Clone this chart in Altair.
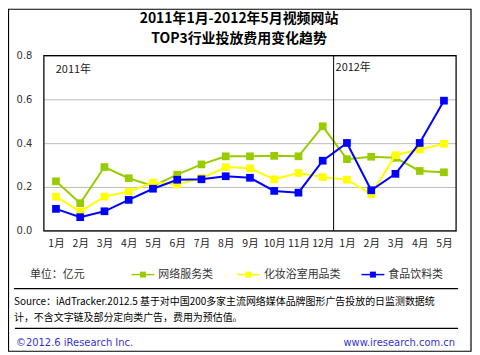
import altair as alt
import pandas as pd

months = ["1月", "2月", "3月", "4月", "5月", "6月", "7月", "8月", "9月", "10月", "11月", "12月",
          "1月", "2月", "3月", "4月", "5月"]
series_names = ["网络服务类", "化妆浴室用品类", "食品饮料类"]
series_colors = ["#99CC00", "#FFFF00", "#0000FF"]
net_service = [0.226, 0.126, 0.291, 0.240, 0.205, 0.256, 0.303, 0.340, 0.340, 0.342, 0.340, 0.477,
               0.327, 0.338, 0.333, 0.273, 0.267]
cosmetics = [0.156, 0.088, 0.156, 0.179, 0.220, 0.212, 0.240, 0.291, 0.285, 0.235, 0.264, 0.245,
             0.233, 0.167, 0.345, 0.371, 0.397]
food_drink = [0.100, 0.062, 0.089, 0.141, 0.192, 0.233, 0.235, 0.249, 0.242, 0.182, 0.174, 0.320,
              0.401, 0.185, 0.260, 0.401, 0.594]
y_ticks = [0.0, 0.2, 0.4, 0.6, 0.8]
year_split = 11.45

title_lines = ["2011年1月-2012年5月视频网站", "TOP3行业投放费用变化趋势"]
unit_text = "单位：亿元"
source_lines = ["Source：iAdTracker.2012.5 基于对中国200多家主流网络媒体品牌图形广告投放的日监测数据统",
                "计，不含文字链及部分定向类广告，费用为预估值。"]
footer_left = "©2012.6 iResearch Inc."
footer_right = "www.iresearch.com.cn"

W, H = 414, 176
CJK = "Noto Sans CJK SC"

rows = []
for name, vals in zip(series_names, [net_service, cosmetics, food_drink]):
    for i, v in enumerate(vals):
        rows.append({"idx": i, "value": v, "series": name})
df = pd.DataFrame(rows)

label_expr = "[" + ",".join("'" + m + "'" for m in months) + "][datum.value]"

xscale = alt.Scale(domain=[-0.5, len(months) - 0.5], nice=False, zero=False)
yscale = alt.Scale(domain=[0, 0.8], nice=False)
color_scale = alt.Scale(domain=series_names, range=series_colors)


def x_axis():
    return alt.Axis(values=list(range(len(months))), labelExpr=label_expr,
                    title=None, domain=False, ticks=False, grid=False, labelPadding=8,
                    labelOverlap=False, labelFont=CJK, labelFontSize=10.5, labelColor="#222222")


def y_axis():
    return alt.Axis(values=y_ticks, format=".1f", title=None, domain=False, ticks=False,
                    grid=True, gridColor="#BBBBBB", gridWidth=1, labelPadding=12,
                    labelFont="DejaVu Sans", labelFontSize=10, labelColor="#333333")


layers = []
for name in series_names:
    sub = df[df.series == name]
    base = alt.Chart(sub).encode(
        x=alt.X("idx:Q", scale=xscale, axis=x_axis()),
        y=alt.Y("value:Q", scale=yscale, axis=y_axis()),
        color=alt.Color("series:N", scale=color_scale, legend=None))
    layers.append(base.mark_line(strokeWidth=2))
    layers.append(base.mark_point(shape="square", filled=True, size=60, opacity=1))

split_df = pd.DataFrame({"idx": [year_split]})
split_rule = alt.Chart(split_df).mark_rule(color="#000000", strokeWidth=1).encode(
    x=alt.X("idx:Q", scale=xscale, axis=x_axis()), y=alt.value(0), y2=alt.value(H))

frame = alt.Chart(split_df).mark_rect(fill=None, stroke="#000000", strokeWidth=1.2).encode(
    x=alt.value(0), x2=alt.value(W), y=alt.value(0), y2=alt.value(H))

outer = alt.Chart(split_df).mark_rect(fill=None, stroke="#000000", strokeWidth=1.2).encode(
    x=alt.value(-35.5), x2=alt.value(429), y=alt.value(-46.5), y2=alt.value(297))


def txt(text, x, y, size=11, align="left", color="#000000", font=CJK, weight="normal"):
    return alt.Chart(pd.DataFrame({"t": [text]})).mark_text(
        align=align, baseline="middle", fontSize=size, font=font, color=color, fontWeight=weight
    ).encode(text="t:N", x=alt.value(x), y=alt.value(y))


def hline(x1, x2, y, color="#000000", w=1.2):
    return alt.Chart(pd.DataFrame({"a": [0]})).mark_rule(color=color, strokeWidth=w).encode(
        x=alt.value(x1), x2=alt.value(x2), y=alt.value(y))


extras = [
    txt(title_lines[0], 196, -36.5, size=14, align="center", weight="bold"),
    txt(title_lines[1], 196, -17, size=14, align="center", weight="bold"),
    txt("2011年", 12, 15, size=11, color="#222222"),
    txt("2012年", 293, 13, size=11, color="#222222"),
    txt(unit_text, -14, 220, size=11, color="#333333"),
    hline(-30, 416, 234),
    txt(source_lines[0], -30, 248, size=10),
    txt(source_lines[1], -30, 264, size=10),
    hline(-29, 416, 274),
    txt(footer_left, -28, 289, size=10, color="#3333CC", font="DejaVu Sans"),
    txt(footer_right, 413, 289, size=10, align="right", color="#3333CC", font="DejaVu Sans"),
]

legend_x = [88, 194, 319]
for name, col, lx in zip(series_names, series_colors, legend_x):
    extras.append(hline(lx, lx + 23, 220, color=col, w=1.5))
    extras.append(alt.Chart(pd.DataFrame({"a": [0]})).mark_point(
        shape="square", filled=True, size=36, color=col, opacity=1).encode(
        x=alt.value(lx + 11.5), y=alt.value(220)))
    extras.append(txt(name, lx + 27, 220, size=11, color="#333333"))

chart = alt.layer(*layers, split_rule, frame, outer, *extras).properties(
    width=W, height=H,
    autosize=alt.AutoSizeParams(type="none"),
    padding={"left": 36, "top": 47, "right": 16, "bottom": 122},
).configure_view(stroke=None).configure(background="#FFFFFF")

chart.save("out.html", embed_options={"renderer": "svg", "actions": False})
